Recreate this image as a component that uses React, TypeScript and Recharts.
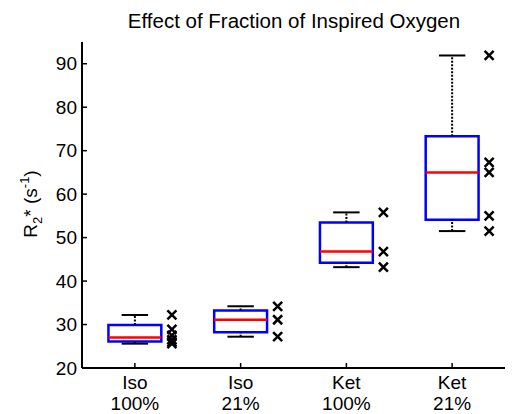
import React from "react";
import {
  ComposedChart,
  XAxis,
  YAxis,
  Scatter,
  ReferenceArea,
  ReferenceLine,
} from "recharts";

const FONT = '"Liberation Sans", Arial, sans-serif';

// one entry per box, left to right
const anesthetic = ["Iso", "Iso", "Ket", "Ket"];
const oxygen = ["100%", "21%", "100%", "21%"];
const lowerWhisker = [25.6, 27.2, 43.2, 51.5];
const lowerQuartile = [26.1, 28.2, 44.2, 54.1];
const medians = [27.0, 31.1, 46.8, 65.0];
const upperQuartile = [29.9, 33.2, 53.5, 73.3];
const upperWhisker = [32.2, 34.2, 55.8, 91.9];
const samples = [
  [32.2, 28.9, 27.5, 26.5, 26.0, 25.6],
  [34.2, 31.1, 27.2],
  [55.8, 46.8, 43.2],
  [91.9, 67.3, 65.0, 55.0, 51.5],
];
const yTicks = [20, 30, 40, 50, 60, 70, 80, 90];
const xTicks = [1, 2, 3, 4];

const BOX_HALF = 0.25;
const CAP_HALF = 0.125;
const SAMPLE_SHIFT = 0.35;

const W = 507;
const H = 406;

const frame = { stroke: "#000", strokeWidth: 2 };
const tickMark = { stroke: "#000", strokeWidth: 1.5 };

function CrossMark(props: any) {
  const { cx, cy } = props;
  const s = 4.5;
  return (
    <path
      d={`M${cx - s},${cy - s}L${cx + s},${cy + s}M${cx - s},${cy + s}L${cx + s},${cy - s}`}
      stroke="#000"
      strokeWidth={2.5}
      fill="none"
    />
  );
}

function GroupTick(props: any) {
  const { x, y, payload } = props;
  const i = payload.value - 1;
  return (
    <text x={x} y={y} textAnchor="middle" fill="#000" fontSize={19} fontFamily={FONT}>
      <tspan x={x} dy={21}>{anesthetic[i]}</tspan>
      <tspan x={x} dy={21}>{oxygen[i]}</tspan>
    </text>
  );
}

const noLabel = () => <g />;

export default function App() {
  const points = samples.flatMap((vals, i) =>
    vals.map((v) => ({ x: i + 1 + SAMPLE_SHIFT, y: v }))
  );

  return (
    <div style={{ position: "relative", width: W, height: H, fontFamily: FONT }}>
      <ComposedChart
        width={W}
        height={H}
        margin={{ top: 34, right: 10, bottom: 0, left: 0 }}
      >
        <XAxis
          type="number"
          dataKey="x"
          domain={[0.5, 4.5]}
          ticks={xTicks}
          allowDataOverflow
          height={46}
          axisLine={frame}
          tickLine={tickMark}
          tickSize={-5}
          tickMargin={5}
          tick={<GroupTick />}
          interval={0}
        />
        <XAxis
          xAxisId="top"
          orientation="top"
          type="number"
          domain={[0.5, 4.5]}
          ticks={xTicks}
          allowDataOverflow
          height={0}
          axisLine={frame}
          tickLine={tickMark}
          tickSize={-5}
          tick={noLabel}
        />
        <YAxis
          type="number"
          dataKey="y"
          domain={[20, 95]}
          ticks={yTicks}
          allowDataOverflow
          width={74}
          axisLine={frame}
          tickLine={tickMark}
          tickSize={-5}
          tickMargin={10}
          tick={{ fill: "#000", fontSize: 19, fontFamily: FONT }}
          interval={0}
        />
        <YAxis
          yAxisId="right"
          orientation="right"
          type="number"
          domain={[20, 95]}
          ticks={yTicks}
          allowDataOverflow
          width={0}
          axisLine={frame}
          tickLine={tickMark}
          tickSize={-5}
          tick={noLabel}
        />

        {xTicks.map((pos, i) => (
          <ReferenceLine
            key={`wu${i}`}
            segment={[
              { x: pos, y: upperQuartile[i] },
              { x: pos, y: upperWhisker[i] },
            ]}
            stroke="#000"
            strokeWidth={2}
            strokeDasharray="2 1.5"
          />
        ))}
        {xTicks.map((pos, i) => (
          <ReferenceLine
            key={`wl${i}`}
            segment={[
              { x: pos, y: lowerWhisker[i] },
              { x: pos, y: lowerQuartile[i] },
            ]}
            stroke="#000"
            strokeWidth={2}
            strokeDasharray="2 1.5"
          />
        ))}
        {xTicks.map((pos, i) => (
          <ReferenceLine
            key={`cu${i}`}
            segment={[
              { x: pos - CAP_HALF, y: upperWhisker[i] },
              { x: pos + CAP_HALF, y: upperWhisker[i] },
            ]}
            stroke="#000"
            strokeWidth={2}
          />
        ))}
        {xTicks.map((pos, i) => (
          <ReferenceLine
            key={`cl${i}`}
            segment={[
              { x: pos - CAP_HALF, y: lowerWhisker[i] },
              { x: pos + CAP_HALF, y: lowerWhisker[i] },
            ]}
            stroke="#000"
            strokeWidth={2}
          />
        ))}
        {xTicks.map((pos, i) => (
          <ReferenceArea
            key={`b${i}`}
            x1={pos - BOX_HALF}
            x2={pos + BOX_HALF}
            y1={lowerQuartile[i]}
            y2={upperQuartile[i]}
            fill="#fff"
            fillOpacity={1}
            stroke="#0000ff"
            strokeWidth={2.5}
          />
        ))}
        {xTicks.map((pos, i) => (
          <ReferenceLine
            key={`m${i}`}
            segment={[
              { x: pos - BOX_HALF, y: medians[i] },
              { x: pos + BOX_HALF, y: medians[i] },
            ]}
            stroke="#ff0000"
            strokeWidth={2.5}
          />
        ))}

        <Scatter data={points} shape={<CrossMark />} isAnimationActive={false} />
      </ComposedChart>

      <svg
        width={W}
        height={H}
        style={{ position: "absolute", left: 0, top: 0, pointerEvents: "none" }}
      >
        <text x={286} y={20} textAnchor="middle" fontSize={20.5} fill="#000" fontFamily={FONT}>
          Effect of Fraction of Inspired Oxygen
        </text>
        <text
          transform="translate(29,196) rotate(-90)"
          textAnchor="middle"
          fontSize={19}
          fill="#000"
          fontFamily={FONT}
        >
          R
          <tspan fontSize={13} dy={5}>2</tspan>
          <tspan dy={-5}>*</tspan>
          <tspan> (s</tspan>
          <tspan fontSize={13} dy={-8}>-1</tspan>
          <tspan dy={8}>)</tspan>
        </text>
      </svg>
    </div>
  );
}
